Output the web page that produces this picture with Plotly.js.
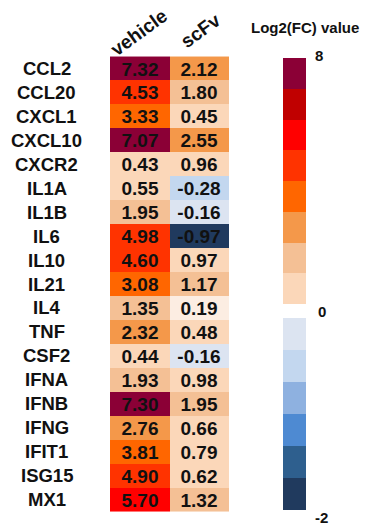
<!DOCTYPE html>
<html>
<head>
<meta charset="utf-8">
<script src="https://cdn.plot.ly/plotly-3.0.1.min.js"></script>
<style>html,body{margin:0;padding:0;background:#fff;}#chart{width:371px;height:530px;}</style>
</head>
<body>
<div id="chart"></div>
<script>
const genes = ['CCL2','CCL20','CXCL1','CXCL10','CXCR2','IL1A','IL1B','IL6','IL10','IL21','IL4','TNF','CSF2','IFNA','IFNB','IFNG','IFIT1','ISG15','MX1'];
const conditions = ['vehicle','scFv'];
const vehicle = [7.32,4.53,3.33,7.07,0.43,0.55,1.95,4.98,4.60,3.08,1.35,2.32,0.44,1.93,7.30,2.76,3.81,4.90,5.70];
const scFv = [2.12,1.80,0.45,2.55,0.96,-0.28,-0.16,-0.97,0.97,1.17,0.19,0.48,-0.16,0.98,1.95,0.66,0.79,0.62,1.32];
const binEdges = [-2,-0.8,-0.6,-0.45,-0.3,-0.2,0,0.2,1,2,3,4,5,6,7,8];
const binColors = ['#203a5e','#2e5f8e','#4e8ad2','#8eb1e0','#c3d7ef','#dce4f1','#fcede2','#fbd7b9','#f4c095','#f4984a','#ff6600','#ff3300','#ff0000','#c00000','#8b0036'];
const cbarTickLabels = ['8','0','-2'];
const cbarTitle = 'Log2(FC) value';

const W = 371, H = 530;
const px = v => v / W;
const py = v => 1 - v / H;
const zmin = binEdges[0], zmax = binEdges[binEdges.length - 1];
const colorscale = [];
binColors.forEach((c, i) => {
  colorscale.push([(binEdges[i] - zmin) / (zmax - zmin), c]);
  colorscale.push([(binEdges[i + 1] - zmin) / (zmax - zmin), c]);
});

const z = genes.map((g, i) => [vehicle[i], scFv[i]]);
const FONT = 'Liberation Sans, Arial, Helvetica, sans-serif';

const main = {
  type: 'heatmap', x: conditions, y: genes, z: z,
  zmin: zmin, zmax: zmax, colorscale: colorscale, showscale: false,
  texttemplate: '%{z:.2f}',
  textfont: {family: FONT, size: 19, color: '#111', weight: 'bold'},
  hoverinfo: 'skip', xaxis: 'x', yaxis: 'y'
};

// custom stepped colour bar: negative bins, white gap (0..0.2 bin), positive bins
const cbY = [0];
const cbZ = [];
for (let i = 0; i < binColors.length; i++) {
  const lo = binEdges[i], hi = binEdges[i + 1];
  let h;
  if (hi <= 0) h = 32; else if (lo === 0 && hi < 1) h = 14; else h = 30.75;
  cbY.push(cbY[cbY.length - 1] + h);
  cbZ.push((lo === 0 && hi < 1) ? [null] : [(lo + hi) / 2]);
}
const cbTop = cbY[cbY.length - 1];
const gapIdx = binEdges.indexOf(0);
const cbar = {
  type: 'heatmap', x: [0, 1], y: cbY, z: cbZ,
  zmin: zmin, zmax: zmax, colorscale: colorscale, showscale: false,
  hoverinfo: 'skip', xaxis: 'x2', yaxis: 'y2'
};

const annotations = [];
genes.forEach(g => annotations.push({
  text: g, xref: 'paper', yref: 'y', x: px(47), y: g, xanchor: 'center', yanchor: 'middle',
  showarrow: false, font: {family: FONT, size: 18.5, color: '#111', weight: 'bold'}
}));
const headerPos = [[139, 33], [201, 31]];
conditions.forEach((c, i) => annotations.push({
  text: c, xref: 'paper', yref: 'paper', x: px(headerPos[i][0]), y: py(headerPos[i][1]),
  xanchor: 'center', yanchor: 'middle', textangle: -36, showarrow: false,
  font: {family: FONT, size: 19, color: '#111', weight: 'bold'}
}));
annotations.push({
  text: cbarTitle, xref: 'paper', yref: 'paper', x: px(305), y: py(28), xanchor: 'center', yanchor: 'middle',
  showarrow: false, font: {family: FONT, size: 15, color: '#111', weight: 'bold'}
});
const tickY = [cbTop, (cbY[gapIdx] + cbY[gapIdx + 1]) / 2, 0];
const tickShift = [2, 0, -7];
const tickX = [319, 322, 321];
cbarTickLabels.forEach((t, i) => annotations.push({
  text: t, xref: 'paper', yref: 'y2', x: px(tickX[i]), y: tickY[i], yshift: tickShift[i],
  xanchor: 'center', yanchor: 'middle', showarrow: false,
  font: {family: FONT, size: 15, color: '#111', weight: 'bold'}
}));

const axisOff = {showticklabels: false, showgrid: false, zeroline: false, ticks: '', showline: false};
const layout = {
  width: W, height: H, margin: {l: 0, r: 0, t: 0, b: 0},
  paper_bgcolor: '#fff', plot_bgcolor: '#fff', showlegend: false,
  xaxis: Object.assign({domain: [px(110), px(229)]}, axisOff),
  yaxis: Object.assign({domain: [py(512), py(56)], autorange: 'reversed'}, axisOff),
  xaxis2: Object.assign({domain: [px(283), px(306)], range: [0, 1], anchor: 'y2'}, axisOff),
  yaxis2: Object.assign({domain: [py(510), py(58)], range: [0, cbTop], anchor: 'x2'}, axisOff),
  annotations: annotations
};

Plotly.newPlot('chart', [main, cbar], layout, {displayModeBar: false, staticPlot: true});
</script>
</body>
</html>
